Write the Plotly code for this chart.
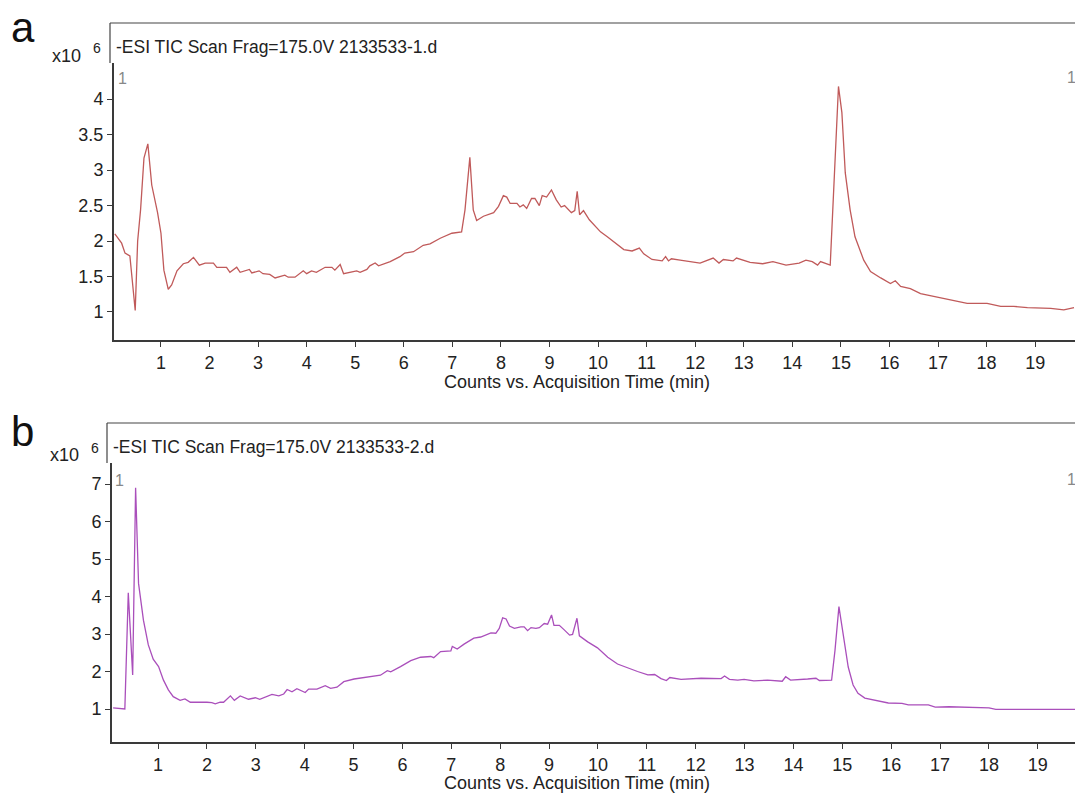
import plotly.graph_objects as go

# ---------------- data (panel a) ----------------
time_a = [0.05, 0.19, 0.26, 0.36, 0.47, 0.52, 0.58, 0.65, 0.73, 0.81, 0.93, 1.00, 1.06, 1.15, 1.22,
          1.33, 1.46, 1.56, 1.67, 1.79, 1.91, 2.08, 2.15, 2.35, 2.42, 2.56, 2.63, 2.82, 2.87, 3.02,
          3.10, 3.24, 3.35, 3.55, 3.62, 3.76, 3.93, 4.00, 4.10, 4.20, 4.38, 4.52, 4.58, 4.69, 4.76,
          4.89, 5.03, 5.10, 5.24, 5.30, 5.41, 5.48, 5.65, 5.72, 5.92, 6.02, 6.20, 6.40, 6.54, 6.75,
          6.99, 7.19, 7.26, 7.36, 7.43, 7.50, 7.64, 7.85, 7.95, 8.05, 8.12, 8.19, 8.33, 8.39, 8.46,
          8.53, 8.63, 8.70, 8.79, 8.85, 8.94, 9.04, 9.14, 9.24, 9.31, 9.45, 9.52, 9.57, 9.62, 9.70,
          9.82, 9.95, 10.05, 10.19, 10.36, 10.53, 10.70, 10.85, 10.94, 11.11, 11.32, 11.39, 11.45,
          11.51, 11.69, 12.10, 12.37, 12.49, 12.58, 12.78, 12.85, 13.13, 13.39, 13.60, 13.87, 14.14,
          14.28, 14.41, 14.52, 14.58, 14.78, 14.85, 14.95, 15.02, 15.09, 15.19, 15.29, 15.47, 15.61,
          15.82, 16.02, 16.12, 16.23, 16.43, 16.64, 16.91, 17.19, 17.60, 18.01, 18.29, 18.56, 18.84,
          19.32, 19.59, 19.80]
counts_a = [2.10, 1.97, 1.83, 1.79, 1.02, 2.00, 2.44, 3.17, 3.37, 2.79, 2.40, 2.11, 1.59, 1.32, 1.38,
            1.58, 1.68, 1.70, 1.77, 1.66, 1.69, 1.69, 1.63, 1.63, 1.56, 1.63, 1.56, 1.60, 1.55, 1.58,
            1.54, 1.53, 1.48, 1.52, 1.49, 1.49, 1.58, 1.54, 1.58, 1.56, 1.63, 1.63, 1.59, 1.67, 1.54,
            1.56, 1.58, 1.56, 1.60, 1.65, 1.69, 1.65, 1.69, 1.71, 1.78, 1.83, 1.85, 1.94, 1.96, 2.04,
            2.11, 2.13, 2.44, 3.18, 2.44, 2.29, 2.35, 2.40, 2.49, 2.64, 2.62, 2.53, 2.53, 2.48, 2.51,
            2.46, 2.60, 2.60, 2.50, 2.64, 2.62, 2.72, 2.58, 2.48, 2.50, 2.40, 2.43, 2.70, 2.37, 2.43,
            2.30, 2.20, 2.13, 2.06, 1.97, 1.88, 1.86, 1.90, 1.82, 1.74, 1.72, 1.78, 1.72,
            1.75, 1.73, 1.69, 1.76, 1.69, 1.74, 1.72, 1.76, 1.70, 1.68, 1.71, 1.66, 1.69,
            1.73, 1.71, 1.66, 1.71, 1.66, 2.68, 4.18, 3.81, 2.96, 2.44, 2.06, 1.73, 1.57,
            1.48, 1.40, 1.44, 1.36, 1.33, 1.26, 1.22, 1.18, 1.12, 1.12, 1.08, 1.08, 1.06,
            1.05, 1.03, 1.06]

# ---------------- data (panel b) ----------------
time_b = [0.08, 0.19, 0.32, 0.39, 0.48, 0.54, 0.60, 0.70, 0.80, 0.90, 1.01, 1.11, 1.21, 1.31, 1.45,
          1.55, 1.66, 2.00, 2.10, 2.17, 2.27, 2.34, 2.48, 2.56, 2.68, 2.85, 2.99, 3.08, 3.23, 3.33,
          3.47, 3.57, 3.64, 3.74, 3.84, 4.01, 4.08, 4.25, 4.42, 4.53, 4.66, 4.80, 5.01, 5.14, 5.35,
          5.55, 5.69, 5.76, 5.96, 6.17, 6.37, 6.58, 6.64, 6.78, 6.99, 7.02, 7.12, 7.26, 7.46, 7.60,
          7.81, 7.91, 7.98, 8.05, 8.12, 8.19, 8.29, 8.42, 8.49, 8.56, 8.63, 8.73, 8.80, 8.90, 8.97,
          9.05, 9.10, 9.21, 9.31, 9.42, 9.48, 9.57, 9.62, 9.79, 9.99, 10.20, 10.40, 10.61, 10.81,
          11.02, 11.16, 11.29, 11.40, 11.47, 11.70, 12.11, 12.38, 12.52, 12.59, 12.69, 12.86, 12.99,
          13.19, 13.47, 13.77, 13.84, 13.94, 14.15, 14.29, 14.46, 14.53, 14.78, 14.85, 14.93, 15.02,
          15.12, 15.22, 15.32, 15.46, 15.66, 15.94, 16.22, 16.35, 16.76, 16.90, 17.18, 17.52, 18.00,
          18.14, 18.56, 18.70, 19.48, 19.55, 19.90]
counts_b = [1.03, 1.02, 1.00, 4.10, 1.91, 6.90, 4.35, 3.37, 2.71, 2.33, 2.13, 1.77, 1.51, 1.33, 1.23,
            1.27, 1.18, 1.18, 1.17, 1.14, 1.18, 1.18, 1.35, 1.23, 1.35, 1.26, 1.30, 1.26, 1.33, 1.39,
            1.35, 1.40, 1.52, 1.46, 1.54, 1.44, 1.53, 1.53, 1.62, 1.55, 1.58, 1.73, 1.80, 1.82, 1.86,
            1.90, 2.02, 1.99, 2.13, 2.29, 2.38, 2.40, 2.37, 2.53, 2.55, 2.67, 2.60, 2.73, 2.89, 2.92,
            3.03, 3.02, 3.15, 3.43, 3.40, 3.21, 3.15, 3.19, 3.19, 3.09, 3.17, 3.15, 3.17, 3.28, 3.26,
            3.51, 3.23, 3.23, 3.11, 2.97, 2.99, 3.42, 2.95, 2.79, 2.63, 2.38, 2.20, 2.09, 2.00,
            1.91, 1.92, 1.81, 1.76, 1.84, 1.79, 1.82, 1.82, 1.81, 1.88, 1.79, 1.77, 1.79,
            1.75, 1.77, 1.74, 1.86, 1.77, 1.78, 1.80, 1.82, 1.76, 1.77, 2.57, 3.73, 2.92,
            2.12, 1.64, 1.42, 1.29, 1.23, 1.16, 1.15, 1.11, 1.11, 1.05, 1.06, 1.04, 1.03,
            0.99, 0.99, 0.98, 0.99, 0.97, 0.99]

x_ticks = list(range(1, 20))
y_ticks_a = [1, 1.5, 2, 2.5, 3, 3.5, 4]
y_ticks_b = [1, 2, 3, 4, 5, 6, 7]
title_a = "-ESI TIC Scan Frag=175.0V 2133533-1.d"
title_b = "-ESI TIC Scan Frag=175.0V 2133533-2.d"
x_title = "Counts vs. Acquisition Time (min)"

# ---------------- layout helpers ----------------
W, H = 1075, 795
FONT = "Liberation Sans, Arial, sans-serif"


def px(x):
    return x / W


def py(y):
    return 1 - y / H


fig = go.Figure()
fig.add_trace(go.Scatter(x=time_a, y=counts_a, mode="lines",
                         line=dict(color="#c05a5a", width=1.3), xaxis="x", yaxis="y",
                         showlegend=False, hoverinfo="skip"))
fig.add_trace(go.Scatter(x=time_b, y=counts_b, mode="lines",
                         line=dict(color="#aa4fbb", width=1.3), xaxis="x2", yaxis="y2",
                         showlegend=False, hoverinfo="skip"))

axis_common = dict(showline=True, linecolor="#3a3a3a", linewidth=2, ticks="outside",
                   ticklen=5, tickwidth=1, tickcolor="#3a3a3a", showgrid=False,
                   zeroline=False, tickfont=dict(family=FONT, size=18, color="#222"))

fig.update_layout(
    width=W, height=H, margin=dict(l=0, r=0, t=0, b=0),
    paper_bgcolor="white", plot_bgcolor="white",
    font=dict(family=FONT, color="#222"),
    xaxis=dict(domain=[px(114), 1], range=[0.033, 19.82], anchor="y",
               tickvals=x_ticks, **axis_common),
    yaxis=dict(domain=[py(340), py(63)], range=[0.605, 4.51], anchor="x",
               tickvals=y_ticks_a, **axis_common),
    xaxis2=dict(domain=[px(112), 1], range=[0.057, 19.76], anchor="y2",
                tickvals=x_ticks, **axis_common),
    yaxis2=dict(domain=[py(742), py(463)], range=[0.12, 7.56], anchor="x2",
                tickvals=y_ticks_b, **axis_common),
)

shapes = []
for (fx, fy, ay) in [(110, 23, 63), (107, 423, 463)]:
    shapes.append(dict(type="line", xref="paper", yref="paper", x0=px(fx), x1=1.0,
                       y0=py(fy), y1=py(fy), line=dict(color="#444", width=1.2)))
    shapes.append(dict(type="line", xref="paper", yref="paper", x0=px(fx), x1=px(fx),
                       y0=py(fy), y1=py(ay), line=dict(color="#444", width=1.2)))
fig.update_layout(shapes=shapes)

ann = []


def text(t, x, y, size, color="#222", xanchor="left", yanchor="middle"):
    ann.append(dict(text=t, x=px(x), y=py(y), xref="paper", yref="paper", showarrow=False,
                    xanchor=xanchor, yanchor=yanchor,
                    font=dict(family=FONT, size=size, color=color)))


# panel a
text("a", 9, 28, 42, color="#111")
text("x10", 50, 56, 18)
text("6", 91, 48, 14)
text(title_a, 114, 47, 17.5)
text("1", 116, 79, 16, color="#888")
text("1", 1065, 78, 16, color="#888")
text(x_title, 577, 382, 18, xanchor="center")
# panel b
text("b", 9, 431, 42, color="#111")
text("x10", 48, 455, 18)
text("6", 89, 448, 14)
text(title_b, 111, 447, 17.5)
text("1", 113, 480, 16, color="#888")
text("1", 1065, 479, 16, color="#888")
text(x_title, 577, 783, 18, xanchor="center")

fig.update_layout(annotations=ann)

fig.write_html("out.html")
